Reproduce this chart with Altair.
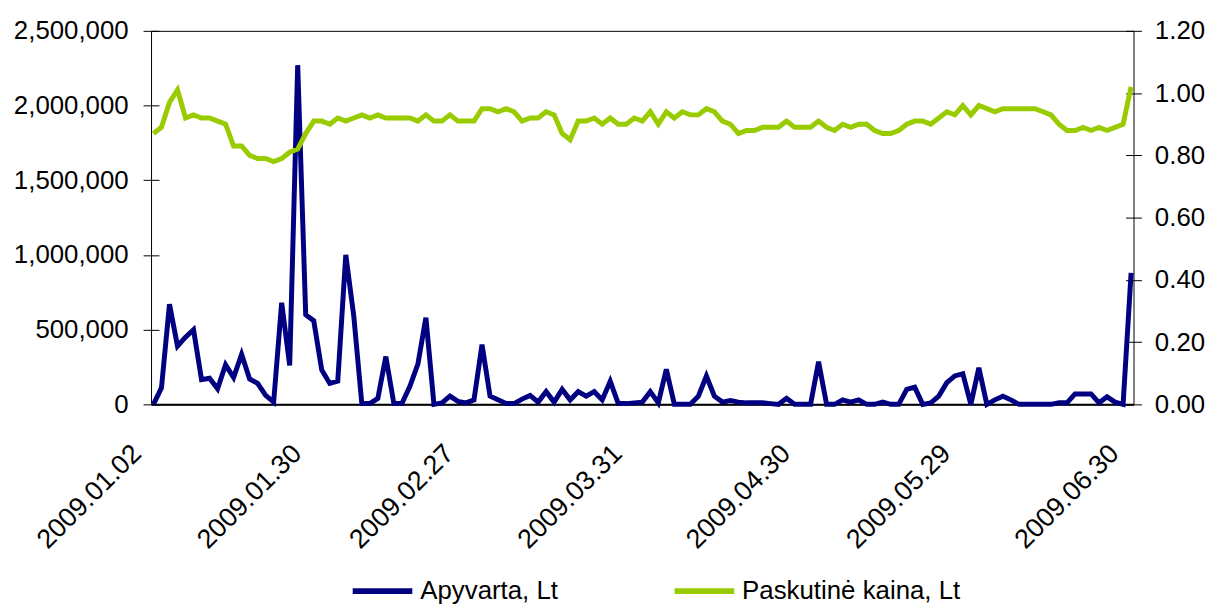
import altair as alt
import pandas as pd

# Trading days (Vilnius exchange), Lithuanian public holidays excluded
holidays = ["2009-02-16", "2009-03-11", "2009-04-13", "2009-05-01", "2009-06-24"]
trading_days = [d for d in pd.bdate_range("2009-01-02", "2009-06-30")
                if d.strftime("%Y-%m-%d") not in holidays]
dates = [d.strftime("%Y.%m.%d") for d in trading_days]

label_dates = ["2009.01.02", "2009.01.30", "2009.02.27", "2009.03.31",
               "2009.04.30", "2009.05.29", "2009.06.30"]

turnover = [
    0, 110000, 670000, 390000, 450000, 500000, 165000, 175000, 105000, 265000,
    180000, 335000, 170000, 140000, 60000, 15000, 680000, 260000, 2270000, 600000,
    560000, 230000, 140000, 155000, 1000000, 590000, 5000, 5000, 40000, 320000,
    5000, 5000, 120000, 270000, 580000, 0, 10000, 55000, 20000, 10000,
    30000, 400000, 55000, 30000, 5000, 5000, 35000, 60000, 15000, 85000,
    15000, 100000, 30000, 85000, 55000, 85000, 30000, 155000, 5000, 5000,
    10000, 15000, 85000, 10000, 235000, 0, 0, 0, 55000, 190000,
    55000, 15000, 25000, 15000, 10000, 10000, 10000, 5000, 0, 40000,
    0, 0, 0, 285000, 0, 0, 30000, 15000, 30000, 0,
    0, 15000, 0, 0, 100000, 115000, 0, 10000, 55000, 145000,
    190000, 205000, 0, 245000, 0, 30000, 55000, 30000, 0, 0,
    0, 0, 0, 10000, 10000, 70000, 70000, 70000, 10000, 50000,
    15000, 0, 880000,
]

price = [
    0.87, 0.89, 0.97, 1.01, 0.92, 0.93, 0.92, 0.92, 0.91, 0.90,
    0.83, 0.83, 0.80, 0.79, 0.79, 0.78, 0.79, 0.81, 0.82, 0.87,
    0.91, 0.91, 0.90, 0.92, 0.91, 0.92, 0.93, 0.92, 0.93, 0.92,
    0.92, 0.92, 0.92, 0.91, 0.93, 0.91, 0.91, 0.93, 0.91, 0.91,
    0.91, 0.95, 0.95, 0.94, 0.95, 0.94, 0.91, 0.92, 0.92, 0.94,
    0.93, 0.87, 0.85, 0.91, 0.91, 0.92, 0.90, 0.92, 0.90, 0.90,
    0.92, 0.91, 0.94, 0.90, 0.94, 0.92, 0.94, 0.93, 0.93, 0.95,
    0.94, 0.91, 0.90, 0.87, 0.88, 0.88, 0.89, 0.89, 0.89, 0.91,
    0.89, 0.89, 0.89, 0.91, 0.89, 0.88, 0.90, 0.89, 0.90, 0.90,
    0.88, 0.87, 0.87, 0.88, 0.90, 0.91, 0.91, 0.90, 0.92, 0.94,
    0.93, 0.96, 0.93, 0.96, 0.95, 0.94, 0.95, 0.95, 0.95, 0.95,
    0.95, 0.94, 0.93, 0.90, 0.88, 0.88, 0.89, 0.88, 0.89, 0.88,
    0.89, 0.90, 1.02,
]

left_ticks = [0, 500000, 1000000, 1500000, 2000000, 2500000]
right_ticks = [0.0, 0.2, 0.4, 0.6, 0.8, 1.0, 1.2]

series_names = ["Apyvarta, Lt", "Paskutinė kaina, Lt"]
series_colors = ["#000080", "#99CC00"]

df = pd.DataFrame({"date": dates, "turnover": turnover, "price": price})

FONT = "Liberation Sans"

color_scale = alt.Scale(domain=series_names, range=series_colors)
legend = alt.Legend(
    title=None, orient="none", legendX=200, legendY=531, direction="horizontal",
    symbolType="stroke", symbolSize=3600, symbolStrokeWidth=6,
    labelFontSize=26, labelFont=FONT, labelColor="black", labelOffset=5,
    labelLimit=500, columnPadding=105,
)

x_enc = alt.X(
    "date:O", sort=None, title=None,
    scale=alt.Scale(type="point", padding=0.3),
    axis=alt.Axis(values=label_dates, labelAngle=-45, labelAlign="right",
                  labelBaseline="middle", labelPadding=45, labelOffset=-17,
                  ticks=False, domain=True, domainColor="black", domainWidth=2,
                  labelFontSize=27, labelFont=FONT, labelColor="black"),
)

color_enc = alt.Color("series:N", scale=color_scale, legend=legend)

base = alt.Chart(df)

line_turnover = base.transform_calculate(series=f"'{series_names[0]}'").mark_line(strokeWidth=5).encode(
    x=x_enc,
    y=alt.Y("turnover:Q", title=None,
            scale=alt.Scale(domain=[0, 2500000], nice=False),
            axis=alt.Axis(orient="left", values=left_ticks, format=",d",
                          offset=-8, tickSize=16, tickColor="black", domain=False,
                          labelPadding=15, labelFontSize=26, labelFont=FONT,
                          labelColor="black", grid=False)),
    color=color_enc,
)

line_price = base.transform_calculate(series=f"'{series_names[1]}'").mark_line(strokeWidth=5).encode(
    x=x_enc,
    y=alt.Y("price:Q", title=None,
            scale=alt.Scale(domain=[0, 1.2], nice=False),
            axis=alt.Axis(orient="right", values=right_ticks, format=".2f",
                          offset=-8, tickSize=16, tickColor="black", domain=False,
                          labelPadding=13, labelFontSize=26, labelFont=FONT,
                          labelColor="black", grid=False)),
    color=color_enc,
)

chart = alt.layer(line_turnover, line_price).resolve_scale(y="independent").properties(
    width=989, height=376,
    padding={"left": 144, "top": 21, "right": 77, "bottom": 201},
    autosize=alt.AutoSizeParams(type="none"),
    background="white",
).configure_view(stroke="black", strokeWidth=1)

chart.save("out.html", embed_options={"renderer": "svg", "actions": False})
